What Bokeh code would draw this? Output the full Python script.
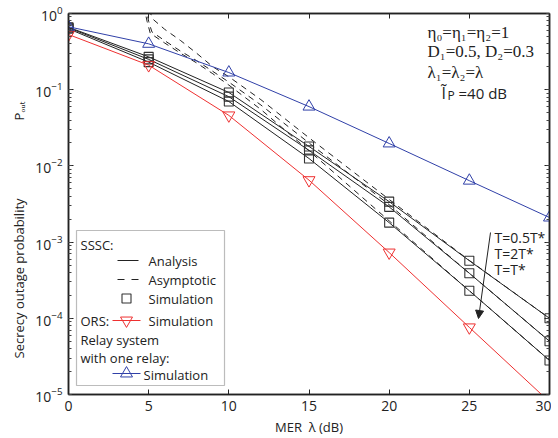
import numpy as np
from bokeh.plotting import figure
from bokeh.models import (LinearAxis, LogAxis, LogTicker, SingleIntervalTicker, Label,
                          BoxAnnotation, Arrow, NormalHead, Range1d, CustomJSTickFormatter)
from bokeh.embed import file_html
from bokeh.resources import INLINE

# ---------------- data ----------------
mer_db = [0, 5, 10, 15, 20, 25, 30]
sssc_half = [0.66, 0.27, 0.092, 0.018, 0.0034, 5.7e-4, 1.0e-4]   # T = 0.5T*
sssc_two = [0.65, 0.25, 0.081, 0.016, 0.0029, 3.9e-4, 5.0e-5]    # T = 2T*
sssc_opt = [0.63, 0.23, 0.070, 0.0125, 0.0018, 2.3e-4, 2.8e-5]   # T = T*
ors_sim = [0.53, 0.21, 0.046, 0.0065, 7.3e-4, 7.6e-5, 8.0e-6]
one_relay = [0.67, 0.40, 0.168, 0.060, 0.0197, 0.0064, 0.0021]

asym_half_x = [5.0, 5.3, 6, 7, 8, 9, 10, 12, 15, 20, 25, 30]
asym_half = [1.12, 0.83, 0.62, 0.44, 0.30, 0.20, 0.148, 0.074, 0.0234, 0.00363, 5.75e-4, 1.0e-4]
asym_two_x = [4.8, 5.0, 5.2, 6, 7, 8, 9, 10, 12, 15, 20, 25, 30]
asym_two = [1.26, 0.79, 0.575, 0.44, 0.32, 0.24, 0.174, 0.126, 0.063, 0.020, 0.0031, 3.9e-4, 5.0e-5]
asym_opt_x = [4.7, 4.9, 5.1, 6, 7, 8, 9, 10, 12, 15, 20, 25, 30]
asym_opt = [1.26, 0.79, 0.55, 0.41, 0.30, 0.224, 0.162, 0.115, 0.055, 0.0158, 0.0019, 2.3e-4, 2.8e-5]

x_ticks_interval = 5
EM = "\u2003"
x_title = "MER\u00a0\u00a0λ (dB)"
y_title = "Secrecy outage probability" + EM * 6 + "Pₒᵤₜ" + EM * 4

# ---------------- layout helpers ----------------
FONT = "Open Sans"
SERIF = "Liberation Serif"
RED = "#ee3030"
BLUE = "#3040a8"
OFF = 0                              # page offset of the canvas
FL, FT, FW, FH = 68, 13, 481, 381   # frame position on page (px)
XMIN, XMAX, YLO, YHI = 0, 30, -5, 0


def dx(px):
    return XMIN + (px - FL) / FW * (XMAX - XMIN)


def dy(py):
    return 10 ** (YHI - (py - FT) / FH * (YHI - YLO))


p = figure(frame_width=FW, frame_height=FH, x_range=Range1d(XMIN, XMAX),
           y_range=Range1d(10 ** YLO, 10 ** YHI), y_axis_type="log",
           output_backend="svg", toolbar_location=None,
           min_border_left=FL - OFF, min_border_right=2, min_border_top=FT - OFF,
           min_border_bottom=436 - FT - FH)
p.grid.visible = False
p.outline_line_color = "#222222"
p.outline_line_width = 1.5
p.background_fill_color = "white"
p.border_fill_color = "white"

bottom_ax = p.xaxis[0]
left_ax = p.yaxis[0]
xt = SingleIntervalTicker(interval=x_ticks_interval, num_minor_ticks=0)
yt = LogTicker(num_minor_ticks=10)
bottom_ax.ticker = xt
left_ax.ticker = yt
blank = CustomJSTickFormatter(code="return ''")
top = LinearAxis(ticker=xt, formatter=blank)
right = LogAxis(ticker=yt, formatter=blank)
p.add_layout(top, "above")
p.add_layout(right, "right")
for ax in [top, right]:
    ax.major_label_standoff = 0
for ax in [bottom_ax, left_ax, top, right]:
    ax.axis_line_width = 1.5
    ax.axis_line_color = "#222222"
    ax.major_tick_in = 5
    ax.major_tick_out = 0
    ax.minor_tick_in = 3
    ax.minor_tick_out = 0
    ax.major_tick_line_color = "#222222"
    ax.minor_tick_line_color = "#444444"
for ax in [bottom_ax, left_ax]:
    ax.major_label_text_font = FONT
    ax.major_label_text_font_size = "14px"
    ax.major_label_text_color = "#222222"
    ax.axis_label_text_font = FONT
    ax.axis_label_text_font_size = "13px"
    ax.axis_label_text_font_style = "normal"
    ax.axis_label_text_color = "#222222"
bottom_ax.major_label_standoff = 6
left_ax.major_label_standoff = 6
bottom_ax.axis_label = x_title
bottom_ax.axis_label_standoff = 4
left_ax.axis_label = y_title
left_ax.axis_label_standoff = 4

# ---------------- data glyphs ----------------
for xs, ys in [(asym_half_x, asym_half), (asym_two_x, asym_two), (asym_opt_x, asym_opt)]:
    p.line(xs, ys, line_color="#222222", line_width=1.0, line_dash="6 5")
for ys in [sssc_half, sssc_two, sssc_opt]:
    p.line(mer_db, ys, line_color="#222222", line_width=1.0)
    p.scatter(mer_db, ys, marker="square", size=9, fill_color=None,
              line_color="#333333", line_width=1.1)
p.line(mer_db, ors_sim, line_color=RED, line_width=1.0)
p.scatter(mer_db, ors_sim, marker="inverted_triangle", size=12, fill_color=None,
          line_color=RED, line_width=1.0)
p.line(mer_db, one_relay, line_color=BLUE, line_width=1.0)
p.scatter(mer_db, one_relay, marker="triangle", size=12, fill_color=None,
          line_color=BLUE, line_width=1.0)


def label(px, py, text, size="13px", font=FONT, align="left", angle=0, color="#222222"):
    p.add_layout(Label(x=dx(px), y=dy(py), text=text, text_font=font,
                       text_font_size=size, text_align=align, text_baseline="middle",
                       angle=angle, text_color=color))


# ---------------- parameter annotation ----------------
label(427, 32, "η₀=η₁=η₂=1", size="17px", font=SERIF)
label(427, 51, "D₁=0.5, D₂=0.3", size="17px", font=SERIF)
label(427, 72, "λ₁=λ₂=λ", size="17px", font=SERIF)
label(441, 92, "Ĩ", size="16px")
label(447, 95, "P", size="12px")
label(458, 92, "=40 dB", size="15px")

# ---------------- T annotation ----------------
label(494, 237, "T=0.5T*", size="14px")
label(494, 253, "T=2T*", size="14px")
label(494, 269, "T=T*", size="14px")
p.add_layout(Arrow(x_start=dx(490), y_start=dy(232), x_end=dx(478), y_end=dy(318),
                   line_color="#222222", line_width=1.0,
                   end=NormalHead(size=8, fill_color="#222222", line_color="#222222")))

# ---------------- legend (drawn by hand) ----------------
p.add_layout(BoxAnnotation(left=dx(76), right=dx(224), top=dy(230), bottom=dy(385),
                           fill_color="white", fill_alpha=1.0, line_color="#222222",
                           line_width=1.2, level="underlay"))
label(80, 244, "SSSC:")
label(148, 260, "Analysis")
label(148, 279, "Asymptotic")
label(148, 298, "Simulation")
label(80, 320, "ORS:")
label(148, 320, "Simulation")
label(80, 339, "Relay system")
label(80, 357, "with one relay:")
label(143, 374, "Simulation")
p.line([dx(117), dx(138)], [dy(260), dy(260)], line_color="#222222", line_width=1.0)
p.line([dx(117), dx(138)], [dy(279), dy(279)], line_color="#222222", line_width=1.0,
       line_dash="7 7")
p.scatter([dx(126)], [dy(298)], marker="square", size=9, fill_color=None,
          line_color="#333333", line_width=1.1)
p.line([dx(112), dx(140)], [dy(320), dy(320)], line_color=RED, line_width=1.0)
p.scatter([dx(126)], [dy(320)], marker="inverted_triangle", size=12, fill_color=None,
          line_color=RED, line_width=1.0)
p.line([dx(112), dx(140)], [dy(373), dy(373)], line_color=BLUE, line_width=1.0)
p.scatter([dx(126)], [dy(373)], marker="triangle", size=12, fill_color=None,
          line_color=BLUE, line_width=1.0)

open("out.html", "w").write(file_html(p, INLINE))
